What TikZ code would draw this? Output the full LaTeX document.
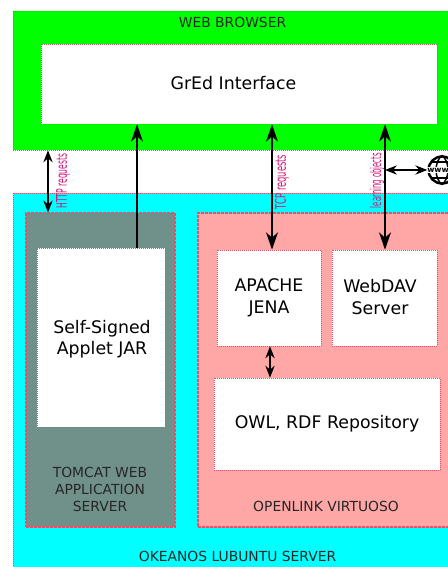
\documentclass[tikz,border=0pt]{standalone}
\usepackage{fontspec}
\setmainfont{DejaVu Sans}
\usetikzlibrary{arrows.meta}
\definecolor{edge}{HTML}{E8506A}
\definecolor{browsergreen}{HTML}{00FF00}
\definecolor{servercyan}{HTML}{00FFFF}
\definecolor{tomcatgray}{HTML}{70908A}
\definecolor{virtpink}{HTML}{FFA6A6}
\definecolor{reqpink}{HTML}{D0187A}
\def\px{0.75pt}
\begin{document}
\begin{tikzpicture}[%
        x=0.75pt, y=-0.75pt,
        font=\fontsize{10.4pt}{13pt}\selectfont,
    ]
    \tikzset{
        base/.style={draw=edge, densely dotted, line width=0.5pt, inner sep=0pt, align=center},
        zone/.style={base, dashed, line width=0.8pt, dash pattern=on 2pt off 1pt},
        inbox/.style={base, fill=white, font=\fontsize{13pt}{16.5pt}\selectfont},
        boxtxt/.style={align=center, inner sep=0pt, font=\fontsize{13pt}{16pt}\selectfont},
        capt/.style={align=center, text=black!85},
        req/.style={rotate=90, text=reqpink, font=\fontsize{11pt}{12pt}\selectfont},
        link/.style={{Stealth[length=9pt,width=7pt,inset=3pt]}-{Stealth[length=9pt,width=7pt,inset=3pt]}, draw, line width=0.8pt},
        biglink/.style={{Stealth[length=13pt,width=9pt,inset=4pt]}-{Stealth[length=13pt,width=9pt,inset=4pt]}, draw, line width=1pt},
        uplink/.style={{Stealth[length=13pt,width=9pt,inset=4pt]}-, draw, line width=1pt},
    }
    \clip (0,0) rectangle (448,567);
    \fill[white] (0,0) rectangle (448,567);
    %%% Blocks
    \node [base, fill=browsergreen, minimum width=445*\px, minimum height=139*\px] (browser) at (235.5,80.5) {};
    \node [inbox, minimum width=396*\px, minimum height=80*\px] (gred) at (239,84) {};
    \node [base, fill=servercyan, minimum width=445*\px, minimum height=380*\px] (okeanos) at (235.5,383) {};
    \node [zone, fill=tomcatgray, minimum width=149*\px, minimum height=314*\px] (tomcat) at (100.5,370) {};
    \node [inbox, minimum width=128*\px, minimum height=179*\px] (applet) at (101,337.5) {};
    \node [zone, fill=virtpink, minimum width=260*\px, minimum height=314*\px] (virtuoso) at (328,370) {};
    \node [inbox, minimum width=104*\px, minimum height=96*\px] (jena) at (269,298) {APACHE\\JENA};
    \node [inbox, minimum width=105*\px, minimum height=96*\px] (webdav) at (384.5,298) {};
    \node [inbox, minimum width=226*\px, minimum height=92*\px] (repo) at (327,424) {OWL, RDF Repository};
    %%% Box texts
    \node [boxtxt] (gredtxt) at (233.5,83) {GrEd Interface};
    \node [boxtxt] (applettxt) at (102,339) {Self-Signed\\Applet JAR};
    \node [boxtxt] (webdavtxt) at (380,297) {WebDAV\\Server};
    %%% Captions
    \node [capt] (browsercap) at (232.5,22) {WEB BROWSER};
    \node [capt] (okeanoscap) at (237.5,556) {OKEANOS LUBUNTU SERVER};
    \node [capt] (tomcatcap) at (100,489.5) {TOMCAT WEB\\APPLICATION\\SERVER};
    \node [capt] (virtuosocap) at (326,506) {OPENLINK VIRTUOSO};
    %%% Globe
    \node [circle, draw, line width=1.8pt, minimum size=27*\px, inner sep=0pt] (globe) at (442,170) {};
    \draw [line width=1.1pt] (globe.north) .. controls (434,162) and (434,178) .. (globe.south);
    \draw [line width=1.1pt] (globe.north) .. controls (450,162) and (450,178) .. (globe.south);
    \draw [line width=1.8pt] (431,162) -- (453,162);
    \draw [line width=1.8pt] (431,178) -- (453,178);
    \node [fill=white, inner sep=0.3pt, font=\fontsize{5.8pt}{6pt}\bfseries\selectfont] (www) at (438,170) {www};
    %%% Nodes
    \coordinate (c1) at (48,170);
    \coordinate (c2) at (137,170);
    \coordinate (c3) at (272,170);
    \coordinate (c4) at (385,170);
    \coordinate (c5) at (270,360);
    %%% Connectors
    \draw [link] (browser.south -| c1) -- (tomcat.north -| c1);
    \draw [uplink] (gred.south -| c2) -- (applet.north -| c2);
    \draw [biglink] (gred.south -| c3) -- (jena.north -| c3);
    \draw [biglink] (gred.south -| c4) -- (webdav.north -| c4);
    \draw [link] (jena.south -| c5) -- (repo.north -| c5);
    \draw [link] (c4) -- (globe.west);
    %%% Labels
    \node [req] (httplabel) at (63,181) {\scalebox{.52}[1]{HTTP requests}};
    \node [req] (tcplabel) at (282,182) {\scalebox{.57}[1]{TCP requests}};
    \node [req] (learnlabel) at (377,180.5) {\scalebox{.47}[1]{learning objects}};
\end{tikzpicture}
\end{document}
